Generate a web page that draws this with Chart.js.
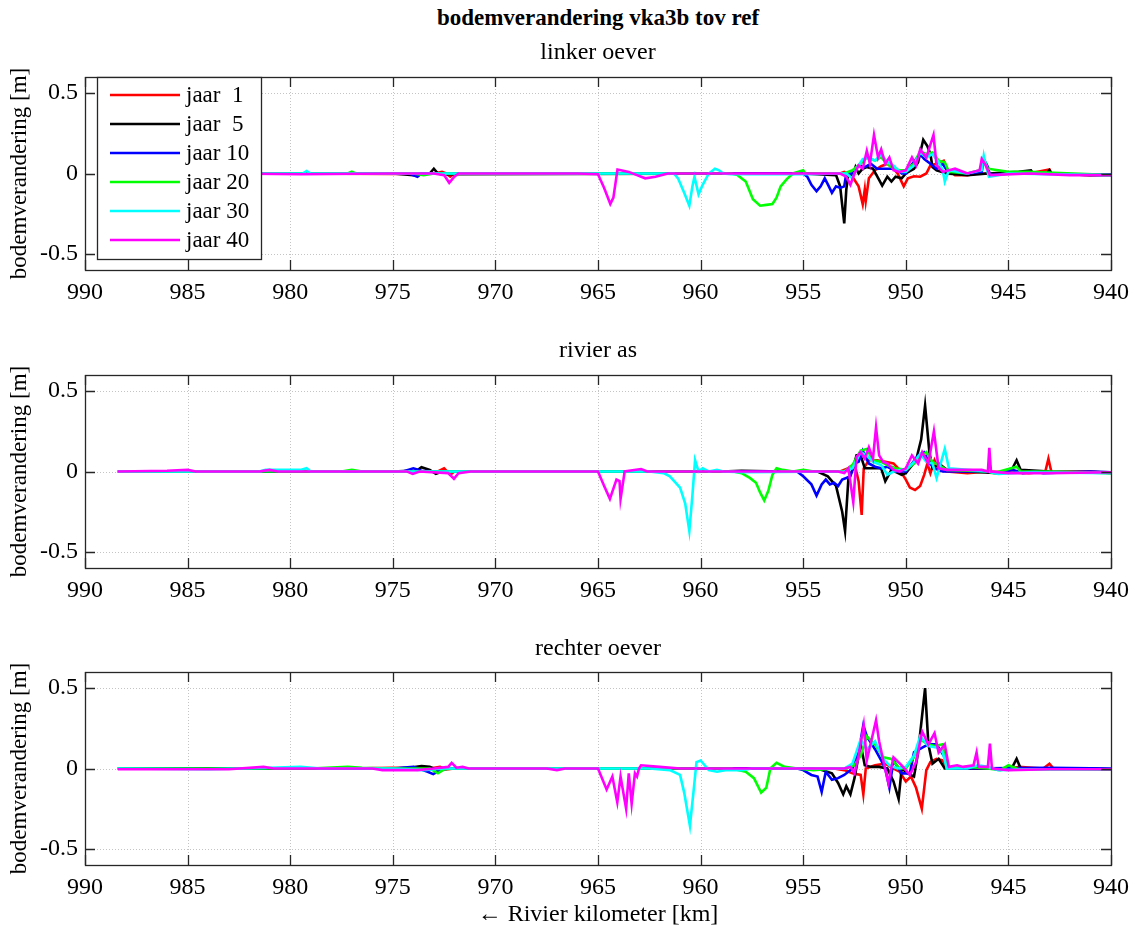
<!DOCTYPE html>
<html><head><meta charset="utf-8">
<script src="https://cdn.jsdelivr.net/npm/chart.js@4.4.1/dist/chart.umd.min.js"></script>
<style>
html,body{margin:0;padding:0;background:#fff;}
#wrap{position:relative;width:1133px;height:929px;overflow:hidden;font-family:"Liberation Serif","DejaVu Serif",serif;color:#000;}
canvas{position:absolute;left:0;}
.t{position:absolute;left:85px;width:1026px;text-align:center;white-space:pre;z-index:5;}
</style></head>
<body><div id="wrap">
<div class="t" style="top:4px;font-size:23px;font-weight:bold;line-height:28px;">bodemverandering vka3b tov ref</div>
<div class="t" style="top:37px;font-size:24px;line-height:28px;">linker oever</div>
<div class="t" style="top:335px;font-size:24px;line-height:28px;">rivier as</div>
<div class="t" style="top:633px;font-size:24px;line-height:28px;">rechter oever</div>
<div class="t" style="top:899px;font-size:24px;line-height:28px;">← Rivier kilometer [km]</div>
<canvas id="c1" width="1133" height="250" style="top:60px"></canvas>
<canvas id="c2" width="1133" height="250" style="top:358px"></canvas>
<canvas id="c3" width="1133" height="250" style="top:655px"></canvas>
</div>
<script>
// ---- data ----
const seriesLabels = ['jaar  1','jaar  5','jaar 10','jaar 20','jaar 30','jaar 40'];
const seriesColors = ['#ff0000','#000000','#0000ff','#00ff00','#00ffff','#ff00ff'];
const xTicks = [990,985,980,975,970,965,960,955,950,945,940];
const yTicks = [-0.5,0,0.5];
const panelTitles = ['linker oever','rivier as','rechter oever'];

// linker oever  [km, value]
const L_j1 = [[988.4,0],[980,0],[975,-0.003],[973,0],[972.6,0.01],[972.4,0],[972.2,-0.02],[972,0],[965,0],[955,0],[953.2,0],[953.0,0.01],[952.6,-0.02],[952.3,-0.08],[952.1,-0.19],[952.0,-0.1],[951.95,-0.17],[951.8,-0.03],[951.5,0.02],[951.2,0.045],[950.9,0.06],[950.6,0.03],[950.4,0],[950.1,-0.08],[949.9,-0.03],[949.6,-0.017],[949.3,-0.02],[949.0,0],[948.8,0.05],[948.5,0.06],[948.15,0.08],[948.0,0.03],[947.6,-0.01],[947,-0.01],[946.5,0],[944,0],[943.0,0.025],[942.9,0],[941,-0.01],[940,-0.005]];
const L_j5 = [[988.4,0],[975,0],[974.0,-0.01],[973.6,0],[973.2,0],[973.0,0.03],[972.8,0],[972.6,-0.005],[955,0],[953.4,-0.01],[953.2,-0.08],[953.0,-0.31],[952.9,-0.1],[952.8,0],[952.6,-0.02],[952.45,0.04],[952.3,0],[952.1,0.03],[951.9,0.04],[951.6,0.03],[951.3,-0.04],[951.15,-0.075],[950.9,-0.02],[950.7,-0.05],[950.5,-0.02],[950.2,-0.03],[950,0],[949.6,0.03],[949.4,0.07],[949.15,0.21],[948.95,0.17],[948.8,0.12],[948.7,0.04],[948.5,0.02],[948,0],[947,-0.01],[946,0],[944.5,0.01],[943.9,0.02],[943.8,0],[943.1,0.005],[943.0,0.02],[942.9,0],[941,-0.01],[940,-0.01]];
const L_j10 = [[988.4,0],[974.2,0],[973.8,-0.02],[973.6,0],[955,0],[954.8,-0.02],[954.6,-0.07],[954.35,-0.11],[954.15,-0.08],[953.95,-0.03],[953.75,-0.08],[953.6,-0.12],[953.4,-0.08],[953.2,-0.09],[953.0,-0.08],[952.9,0],[952.6,0],[952.3,0.05],[952.0,0.04],[951.7,0.06],[951.4,0.03],[951,0.03],[950.5,0.03],[950.2,0],[950,0],[949.8,0.04],[949.5,0.09],[949.3,0.12],[949.1,0.09],[948.8,0.06],[948.5,0.03],[948.2,0.06],[948,0.02],[947,0],[946.3,0.01],[946.2,0.09],[946.0,0.04],[945.9,-0.01],[945,0],[943,0],[942,-0.005],[940,-0.005]];
const L_j20 = [[988.4,0],[977.2,0],[977.0,0.012],[976.8,0],[974,0],[973.5,-0.01],[973,0],[958.5,0],[958.2,-0.01],[957.8,-0.05],[957.45,-0.16],[957.1,-0.2],[956.8,-0.195],[956.5,-0.19],[956.3,-0.15],[956.1,-0.08],[955.8,-0.035],[955.5,0],[955.0,0.02],[954.9,0],[953,0],[952.6,0.02],[952.2,0.06],[951.9,0.1],[951.5,0.08],[951.2,0.1],[950.9,0.06],[950.6,0.03],[950.3,0.02],[950,0.02],[949.6,0.06],[949.3,0.14],[949,0.12],[948.7,0.13],[948.4,0.08],[948.1,0.07],[947.9,0.01],[947,0],[946.4,0.02],[946.2,0.09],[946.0,0.03],[945,0.01],[944,0.01],[940,-0.01]];
const L_j30 = [[988.4,0],[979.4,0],[979.2,0.016],[979.0,0],[961.3,0],[961.1,-0.03],[960.8,-0.12],[960.55,-0.2],[960.4,-0.08],[960.3,-0.02],[960.1,-0.13],[959.9,-0.07],[959.6,0],[959.3,0.03],[959.1,0.02],[958.9,0],[958.5,-0.005],[955,-0.005],[953.2,0],[952.9,0],[952.6,-0.03],[952.4,0.03],[952.1,0.09],[951.8,0.1],[951.5,0.08],[951.2,0.12],[950.9,0.07],[950.6,0.05],[950.3,0.01],[950,0.01],[949.6,0.05],[949.3,0.13],[949,0.1],[948.7,0.12],[948.4,0.07],[948.2,0.02],[948.1,-0.05],[947.9,0.02],[947,0],[946.3,0.02],[946.2,0.11],[946.1,0.05],[945.95,-0.02],[945,0],[940,-0.01]];
const L_j40 = [[988.4,0.005],[986,0.005],[983,0],[979.5,-0.005],[975,0],[973,0],[972.5,-0.01],[972.25,-0.058],[972.0,-0.02],[971.8,0],[966,0],[965.0,-0.005],[964.7,-0.09],[964.4,-0.19],[964.25,-0.15],[964.05,0.025],[963.5,0.01],[963.1,-0.01],[962.7,-0.03],[962.2,-0.02],[961.6,0],[955,0],[953.2,0],[952.9,-0.02],[952.7,-0.07],[952.5,0],[952.3,0.05],[952.1,0.03],[951.9,0.14],[951.75,0.06],[951.55,0.24],[951.35,0.1],[951.2,0.15],[951.0,0.06],[950.8,0.1],[950.6,0.02],[950.3,0.01],[950.0,0.02],[949.7,0.1],[949.5,0.05],[949.3,0.15],[949.0,0.1],[948.8,0.18],[948.65,0.24],[948.5,0.05],[948.2,0.01],[947.6,0.03],[947,0],[946.4,0.02],[946.3,0.09],[946.1,0.05],[945.9,-0.01],[944,0],[942,-0.01],[940,-0.01]];

// rivier as
const M_j1 = [[988.4,0],[972.8,0],[972.5,0.02],[972.2,-0.02],[972,0],[953.2,0],[952.8,0.02],[952.5,0.05],[952.3,-0.06],[952.15,-0.27],[952.05,0.02],[951.8,0.07],[951.4,0.07],[951.0,0.06],[950.6,0.05],[950.3,0.01],[950.0,-0.05],[949.8,-0.1],[949.55,-0.115],[949.3,-0.09],[949.1,-0.02],[948.95,0.05],[948.8,-0.01],[948.6,0.07],[948.4,0.01],[948,0],[947,-0.01],[946,0],[944,-0.01],[943.2,0],[943.05,0.08],[942.9,-0.005],[941,0],[940,-0.01]];
const M_j5 = [[988.4,0],[975,0],[974.2,0.005],[974.0,-0.01],[973.6,0.027],[973.2,0.01],[972.9,-0.015],[972.6,0],[959,0],[958.0,0.005],[956,0],[954.3,0],[953.8,-0.03],[953.4,-0.09],[953.1,-0.25],[952.96,-0.37],[952.8,-0.05],[952.6,0.01],[952.4,0.1],[952.2,0.1],[952.0,0.02],[951.6,0.02],[951.2,0.02],[951.0,-0.06],[950.7,0.01],[950.2,-0.02],[950.0,-0.01],[949.5,0.07],[949.25,0.2],[949.06,0.41],[948.85,0.12],[948.7,0.02],[948.4,0.05],[948.0,0.01],[947,0],[945.5,-0.01],[944.8,0.02],[944.6,0.07],[944.4,0.01],[943,0],[940,-0.005]];
const M_j10 = [[988.4,0],[974.5,0],[974.0,0.02],[973.6,0.005],[973,0],[955.3,0],[955,-0.03],[954.6,-0.08],[954.35,-0.15],[954.1,-0.08],[953.9,-0.05],[953.7,-0.08],[953.5,-0.07],[953.3,-0.09],[953.1,-0.05],[952.9,-0.04],[952.7,-0.03],[952.5,0.05],[952.3,0.06],[952.1,0.13],[951.8,0.05],[951.5,0.03],[951.2,0.02],[950.9,0.03],[950.5,0],[950,0],[949.7,0.05],[949.4,0.1],[949.1,0.12],[948.9,0.06],[948.6,0.02],[948.2,0],[946,0],[945.5,-0.01],[944.8,0.01],[944.3,-0.01],[943.7,0],[943.3,-0.01],[942,-0.005],[941,0],[940,-0.005]];
const M_j20 = [[988.4,0],[977.5,0],[977,0.01],[976.5,0],[958.4,0],[958.0,-0.01],[957.6,-0.04],[957.3,-0.07],[957.1,-0.13],[956.9,-0.18],[956.7,-0.12],[956.5,-0.02],[956.3,0.02],[956.0,0.01],[955.5,0],[955.0,0.01],[954.5,0],[953,0],[952.6,0.04],[952.2,0.13],[951.9,0.14],[951.6,0.07],[951.2,0.06],[950.9,0.04],[950.5,0.02],[950,0.01],[949.6,0.05],[949.3,0.09],[949,0.12],[948.7,0.06],[948.4,0.04],[948,0.01],[946,0],[945.7,-0.01],[944.6,0.03],[944.4,0],[943,0],[940,-0.01]];
const M_j30 = [[988.4,0],[981.5,0],[981.2,0.01],[979.5,0.01],[979.2,0.02],[979,0],[962.5,0],[961.8,-0.01],[961.5,-0.03],[961.0,-0.1],[960.75,-0.2],[960.55,-0.37],[960.4,-0.15],[960.27,0.07],[960.1,0],[959.9,0.02],[959.6,0],[959.2,0.01],[958.9,0],[958,-0.005],[953,0],[952.6,0.02],[952.2,0.12],[951.9,0.1],[951.6,0.06],[951.2,0.04],[950.9,-0.02],[950.6,0],[950.2,0.01],[950,0.01],[949.6,0.06],[949.3,0.11],[949.0,0.06],[948.7,0.05],[948.5,-0.04],[948.1,0.14],[947.9,0.02],[946,0],[945.5,-0.015],[944,-0.005],[940,-0.01]];
const M_j40 = [[988.4,0],[986,0.005],[985.0,0.01],[984.6,0],[981.5,0],[981.0,0.01],[980.6,0],[974.3,0],[974.03,-0.015],[973.7,0],[972.3,-0.01],[972.02,-0.045],[971.8,-0.01],[971.2,0],[965,0],[964.7,-0.09],[964.42,-0.17],[964.1,-0.05],[963.95,-0.06],[963.9,-0.17],[963.7,0],[962.9,0.015],[962.6,0],[953.3,0],[953.0,-0.01],[952.8,0.02],[952.56,-0.19],[952.4,0.09],[952.2,0.12],[952.0,0.08],[951.8,0.15],[951.6,0.08],[951.45,0.275],[951.3,0.1],[951.1,0.06],[950.9,0.05],[950.6,0.01],[950.3,0],[950.0,0.02],[949.7,0.1],[949.4,0.05],[949.2,0.12],[948.9,0.05],[948.63,0.25],[948.4,0.02],[948,0.01],[946.3,0.01],[946.0,0],[945.93,0.147],[945.85,0],[945,-0.01],[943,-0.01],[940,-0.005]];

// rechter oever
const R_j1 = [[988.4,0],[977,0],[975,0.005],[973.2,0],[972.7,0.01],[972.4,-0.005],[972,0],[955,0],[953.5,0],[953.0,-0.01],[952.6,-0.03],[952.2,-0.04],[952.07,-0.16],[951.95,0],[951.5,0.02],[951.0,0.03],[950.6,0],[950.3,-0.02],[950.0,-0.08],[949.75,-0.05],[949.5,-0.12],[949.22,-0.25],[949.0,-0.01],[948.8,0.04],[948.5,0.06],[948.2,0.05],[948.0,0],[944.8,0],[944.5,0.01],[943.3,0],[943.0,0.03],[942.8,0],[941,0],[940,-0.005]];
const R_j5 = [[988.4,0],[975,0],[974.2,0.005],[973.6,0.015],[973.2,0.01],[972.8,-0.01],[972.4,0],[955,0],[954.2,-0.005],[953.6,-0.03],[953.3,-0.09],[953.05,-0.16],[952.9,-0.11],[952.7,-0.16],[952.5,-0.06],[952.2,0.15],[952.0,0.02],[951.7,0.01],[951.3,0.01],[950.9,0],[950.6,-0.08],[950.35,-0.19],[950.2,0],[949.9,-0.03],[949.6,-0.05],[949.4,0.1],[949.06,0.5],[948.9,0.15],[948.7,0.03],[948.4,0.06],[948.1,0],[945.3,0],[944.8,0.01],[944.6,0.06],[944.4,0],[943,0],[940,-0.005]];
const R_j10 = [[988.4,0],[975,0],[974,0.01],[973.3,-0.02],[973.03,-0.035],[972.7,-0.01],[972.3,0],[955.3,0],[955.0,-0.01],[954.6,-0.04],[954.3,-0.05],[954.1,-0.145],[953.9,-0.02],[953.6,-0.07],[953.3,-0.06],[953.0,-0.04],[952.6,0],[952.3,0.1],[952.07,0.27],[951.9,0.2],[951.5,0.12],[951.2,0.05],[951.0,0],[950.8,-0.12],[950.6,0.05],[950.2,-0.03],[949.8,-0.03],[949.6,0.1],[949.2,0.13],[948.9,0.15],[948.5,0.15],[948.1,0.07],[947.9,0],[943,0.005],[940,0]];
const R_j20 = [[988.4,0],[979,0],[977.2,0.01],[976.5,0.005],[975,0],[973.2,0],[972.8,-0.03],[972.5,-0.005],[972,0],[958.5,0],[957.8,-0.02],[957.4,-0.06],[957.05,-0.15],[956.8,-0.12],[956.6,0],[956.3,0.035],[955.9,0.01],[955.3,0],[954.5,-0.01],[953.5,0],[952.9,0],[952.5,0.02],[952.2,0.08],[951.9,0.2],[951.5,0.15],[951.1,0.07],[950.7,0.06],[950.3,0],[950.0,0],[949.6,0.07],[949.3,0.18],[948.9,0.15],[948.6,0.14],[948.2,0.15],[948.0,0],[947,0.01],[946,0],[945.4,-0.01],[945.0,0.02],[944.5,-0.005],[940,-0.005]];
const R_j30 = [[988.4,0],[984,-0.005],[981,0.005],[979.5,0.01],[978.5,0],[975,0],[973.5,-0.01],[972.5,0],[962.5,0],[961.5,-0.01],[961.0,-0.04],[960.8,-0.15],[960.52,-0.356],[960.35,-0.15],[960.2,0.04],[960.0,0.05],[959.6,-0.01],[959.2,-0.02],[958.8,-0.01],[958.0,-0.01],[957.5,0],[953,0],[952.6,0.03],[952.2,0.18],[951.9,0.12],[951.5,0.17],[951.1,0.06],[950.8,0.02],[950.4,0],[950.0,0.01],[949.6,0.08],[949.3,0.2],[948.9,0.14],[948.5,0.13],[948.2,0.1],[948.0,0],[947,0],[946.5,0.02],[946.0,0.01],[945.5,-0.01],[944,-0.005],[940,-0.005]];
const R_j40 = [[988.4,-0.005],[983,-0.005],[981.3,0.01],[980.8,0],[976,0],[975.5,-0.01],[973.8,-0.01],[973,0],[972.3,0.01],[972.13,0.035],[971.9,0.005],[971.6,0.01],[971.3,0],[967.5,0],[967.0,-0.01],[966.6,0],[965,0],[964.58,-0.13],[964.3,-0.05],[964.06,-0.21],[963.9,-0.05],[963.63,-0.25],[963.5,-0.03],[963.36,-0.22],[963.2,-0.03],[963.1,-0.05],[963.0,0],[962.9,0.02],[962,0.01],[961,0],[953.5,0],[953.0,0],[952.7,0.01],[952.5,-0.03],[952.3,0.08],[952.05,0.27],[951.9,0.05],[951.45,0.3],[951.3,0.17],[951.1,0.05],[950.85,-0.09],[950.6,0.07],[950.2,0.02],[949.8,-0.04],[949.5,0.04],[949.2,0.23],[948.9,0.15],[948.6,0.22],[948.4,0.1],[948.1,0.15],[947.9,0.01],[947.5,0.02],[947.2,0.01],[946.7,0.02],[946.55,0.1],[946.45,0.01],[946.0,0.01],[945.9,0.155],[945.8,0],[945,-0.01],[943,-0.005],[940,-0.005]];

const panelSeries = [
  [L_j1,L_j5,L_j10,L_j20,L_j30,L_j40],
  [M_j1,M_j5,M_j10,M_j20,M_j30,M_j40],
  [R_j1,R_j5,R_j10,R_j20,R_j30,R_j40]
];

// ---- drawing ----
const FONT = '"Liberation Serif","DejaVu Serif",serif';

const boxPlugin = {
  id:'matlabBox',
  beforeDatasetsDraw(chart){
    const {ctx, chartArea:a, scales:{x,y}} = chart;
    ctx.save();
    ctx.strokeStyle = '#c4c4c4';
    ctx.lineWidth = 1;
    ctx.setLineDash([1,2]);
    xTicks.forEach(v=>{
      const px = Math.round(x.getPixelForValue(v))+0.5;
      ctx.beginPath(); ctx.moveTo(px,a.top); ctx.lineTo(px,a.bottom); ctx.stroke();
    });
    yTicks.forEach(v=>{
      const py = Math.round(y.getPixelForValue(v))+0.5;
      ctx.beginPath(); ctx.moveTo(a.left,py); ctx.lineTo(a.right,py); ctx.stroke();
    });
    ctx.restore();
  },
  afterDatasetsDraw(chart){
    const {ctx, chartArea:a, scales:{x,y}} = chart;
    ctx.save();
    ctx.strokeStyle = '#262626';
    ctx.lineWidth = 1.3;
    ctx.setLineDash([]);
    const L = 10;
    xTicks.forEach(v=>{
      const px = Math.round(x.getPixelForValue(v))+0.5;
      ctx.beginPath(); ctx.moveTo(px,a.bottom); ctx.lineTo(px,a.bottom-L);
      ctx.moveTo(px,a.top); ctx.lineTo(px,a.top+L); ctx.stroke();
    });
    yTicks.forEach(v=>{
      const py = Math.round(y.getPixelForValue(v))+0.5;
      ctx.beginPath(); ctx.moveTo(a.left,py); ctx.lineTo(a.left+L,py);
      ctx.moveTo(a.right,py); ctx.lineTo(a.right-L,py); ctx.stroke();
    });
    ctx.strokeRect(Math.round(a.left)+0.5, Math.round(a.top)+0.5, Math.round(a.right-a.left), Math.round(a.bottom-a.top));
    ctx.restore();
  },
  afterDraw(chart, args, opts){
    if(!opts.legend) return;
    const {ctx, chartArea:a} = chart;
    ctx.save();
    const bx = 97, by = Math.round(a.top), bw = 164, bh = 182;
    ctx.fillStyle = '#fff';
    ctx.fillRect(bx,by,bw,bh);
    ctx.strokeStyle = '#262626';
    ctx.lineWidth = 1.3;
    ctx.strokeRect(bx+0.5,by+0.5,bw,bh);
    ctx.font = '23px ' + FONT;
    ctx.textBaseline = 'middle';
    ctx.fillStyle = '#000';
    chart.data.datasets.forEach((ds,i)=>{
      const yy = by + 18 + i*29;
      ctx.strokeStyle = ds.borderColor;
      ctx.lineWidth = 2.6;
      ctx.beginPath(); ctx.moveTo(110,yy); ctx.lineTo(180,yy); ctx.stroke();
      ctx.fillText(ds.label, 186, yy+1);
    });
    ctx.restore();
  }
};

function makeChart(id, idx){
  const datasets = panelSeries[idx].map((arr,i)=>({
    label: seriesLabels[i],
    data: arr.map(([km,v])=>({x:km,y:v})),
    borderColor: seriesColors[i],
    backgroundColor: seriesColors[i],
    borderWidth: 2.6,
    pointRadius: 0,
    tension: 0,
    showLine: true,
    fill: false,
    order: seriesLabels.length - i
  }));
  return new Chart(document.getElementById(id), {
    type:'scatter',
    data:{datasets},
    plugins:[boxPlugin],
    options:{
      responsive:false, animation:false, devicePixelRatio:1,
      layout:{padding:{left:0,right:22,top:17,bottom:0}},
      plugins:{legend:{display:false}, tooltip:{enabled:false}, title:{display:false},
        matlabBox:{legend: idx===0}},
      scales:{
        x:{type:'linear', min:940, max:990, reverse:true,
          afterBuildTicks:s=>{s.ticks = xTicks.map(v=>({value:v}));},
          afterFit:s=>{s.height = 40; s.paddingLeft = 0; s.paddingRight = 0; s.paddingTop = 0; s.paddingBottom = 0;},
          grid:{display:false, drawTicks:false},
          border:{display:false},
          ticks:{font:{family:FONT,size:24}, color:'#000', padding:8, maxRotation:0, autoSkip:false,
            callback:v=>String(v)}
        },
        y:{type:'linear', min:-0.6, max:0.6,
          afterBuildTicks:s=>{s.ticks = yTicks.map(v=>({value:v}));},
          afterFit:s=>{s.width = 85; s.paddingTop = 0; s.paddingBottom = 0; s.paddingLeft = 0; s.paddingRight = 0;},
          grid:{display:false, drawTicks:false},
          border:{display:false},
          title:{display:true, text:'bodemverandering [m]', font:{family:FONT,size:23}, color:'#000', padding:{top:6,bottom:0}},
          ticks:{font:{family:FONT,size:24}, color:'#000', padding:7, autoSkip:false,
            callback:v=>(v===0?'0':String(v))}
        }
      }
    }
  });
}
makeChart('c1',0);
makeChart('c2',1);
makeChart('c3',2);
</script>
</body></html>
